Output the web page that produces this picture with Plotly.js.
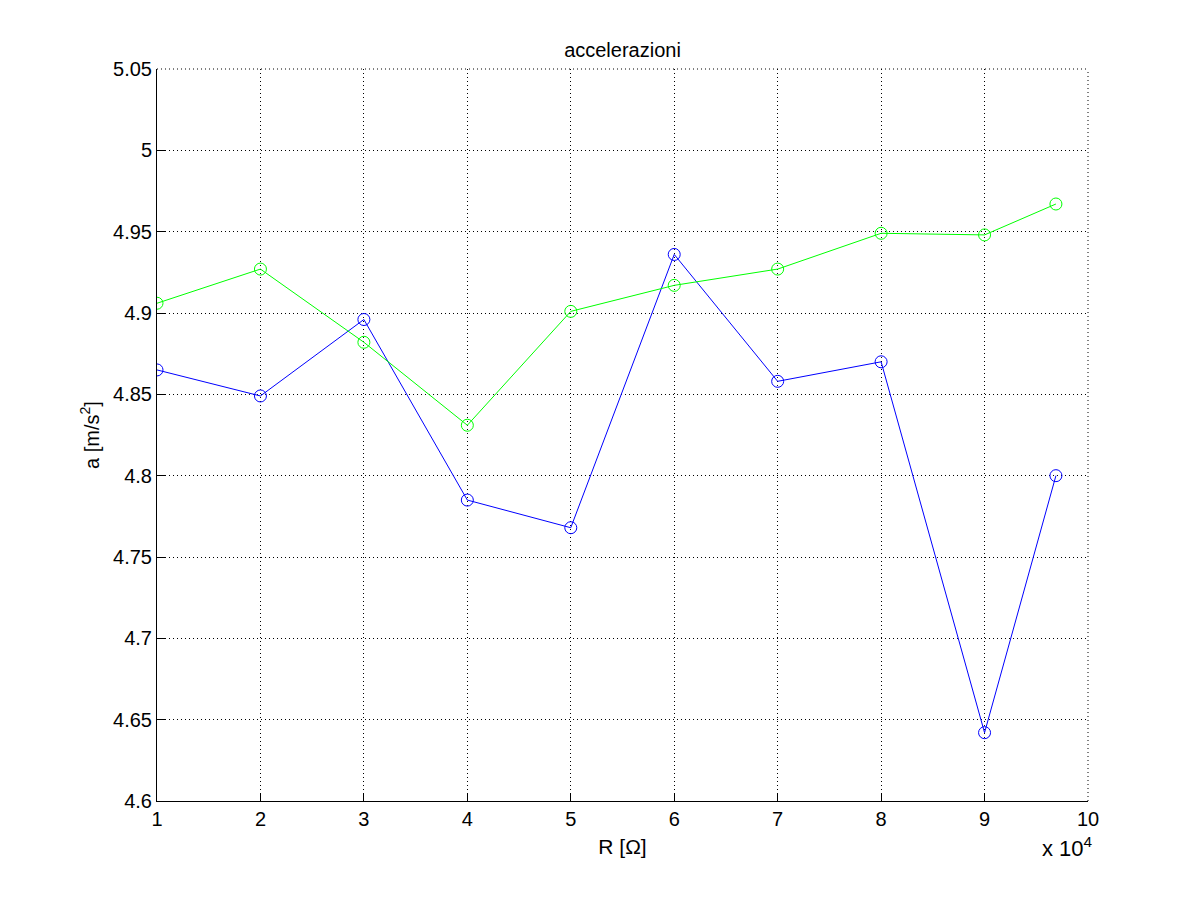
<!DOCTYPE html>
<html>
<head>
<meta charset="utf-8">
<script src="https://cdn.plot.ly/plotly-3.0.1.min.js"></script>
<style>html,body{margin:0;padding:0;background:#fff}#chart{width:1201px;height:901px}</style>
</head>
<body>
<div id="chart"></div>
<script>
const resistance = [10000, 20000, 30000, 40000, 50000, 60000, 70000, 80000, 90000, 96900];
const accelBlue = [4.865, 4.849, 4.896, 4.785, 4.768, 4.936, 4.858, 4.870, 4.642, 4.800];
const accelGreen = [4.906, 4.927, 4.882, 4.831, 4.901, 4.917, 4.927, 4.949, 4.948, 4.967];
const xTickVals = [10000, 20000, 30000, 40000, 50000, 60000, 70000, 80000, 90000, 100000];
const xTickText = ['1', '2', '3', '4', '5', '6', '7', '8', '9', '10'];
const yTickVals = [4.6, 4.65, 4.7, 4.75, 4.8, 4.85, 4.9, 4.95, 5, 5.05];
const yTickText = ['4.6', '4.65', '4.7', '4.75', '4.8', '4.85', '4.9', '4.95', '5', '5.05'];

const font = 'Liberation Sans, Arial, Helvetica, sans-serif';
const dotDash = '1px,3px';

const traces = [
  {x: resistance, y: accelBlue, mode: 'lines+markers', type: 'scatter',
   line: {color: '#0000ff', width: 1},
   marker: {symbol: 'circle-open', size: 12, color: '#0000ff', line: {width: 1}}},
  {x: resistance, y: accelGreen, mode: 'lines+markers', type: 'scatter',
   line: {color: '#00ff00', width: 1},
   marker: {symbol: 'circle-open', size: 12, color: '#00ff00', line: {width: 1}}}
];

const layout = {
  width: 1201, height: 901,
  paper_bgcolor: '#ffffff', plot_bgcolor: '#ffffff',
  showlegend: false,
  margin: {l: 157, r: 113, t: 69, b: 100},
  font: {family: font, color: '#000000'},
  title: {text: 'accelerazioni', font: {family: font, size: 20, color: '#000'},
          x: 0.5, xref: 'paper', y: 1, yref: 'paper', yanchor: 'bottom', pad: {b: 12}},
  xaxis: {
    range: [10000, 100000], tickmode: 'array', tickvals: xTickVals, ticktext: xTickText,
    showline: true, linecolor: '#000', linewidth: 1, mirror: false,
    ticks: 'inside', ticklen: 8, tickcolor: '#000',
    showgrid: true, gridcolor: '#000', gridwidth: 1, griddash: dotDash,
    zeroline: false, tickfont: {family: font, size: 20, color: '#000'},
    title: {text: 'R [Ω]', font: {family: font, size: 21, color: '#000'}, standoff: 10}
  },
  yaxis: {
    range: [4.6, 5.05], tickmode: 'array', tickvals: yTickVals, ticktext: yTickText,
    showline: true, linecolor: '#000', linewidth: 1, mirror: false,
    ticks: 'inside', ticklen: 8, tickcolor: '#000',
    showgrid: true, gridcolor: '#000', gridwidth: 1, griddash: dotDash,
    zeroline: false, tickfont: {family: font, size: 20, color: '#000'},
    title: {text: 'a [m/s<sup>2</sup>]', font: {family: font, size: 20, color: '#000'}, standoff: 8}
  },
  shapes: [
    {type: 'line', xref: 'paper', yref: 'paper', x0: 0, x1: 1, y0: 1, y1: 1,
     line: {color: '#000', width: 1, dash: dotDash}, layer: 'below'},
    {type: 'line', xref: 'paper', yref: 'paper', x0: 1, x1: 1, y0: 0, y1: 1,
     line: {color: '#000', width: 1, dash: dotDash}, layer: 'below'}
  ],
  annotations: [
    {text: 'x 10<sup>4</sup>', xref: 'paper', yref: 'paper', x: 1, y: 0, xanchor: 'center',
     yanchor: 'middle', yshift: -46, xshift: -21, showarrow: false,
     font: {family: font, size: 22, color: '#000'}}
  ]
};

Plotly.newPlot('chart', traces, layout, {displayModeBar: false, staticPlot: true});
</script>
</body>
</html>
